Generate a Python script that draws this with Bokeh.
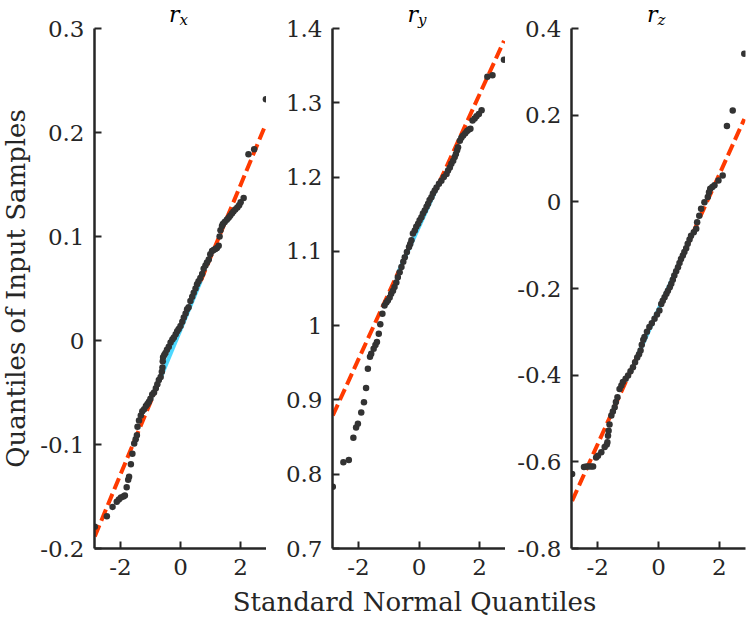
import math
from bokeh.plotting import figure
from bokeh.models import Label, FixedTicker, Range1d
from bokeh.layouts import row, column
from bokeh.embed import file_html
from bokeh.resources import INLINE

# ---------------- data ----------------
x_ticks = [-2, 0, 2]
x_tick_labels = ["-2", "0", "2"]
x_limits = [-2.86, 2.86]

rx_x = [-2.85, -2.45, -2.26, -2.12, -2.05, -1.98, -1.90, -1.85, -1.79, -1.74, -1.71, -1.65,
        -1.60, -1.54, -1.49, -1.45, -1.43, -1.38, -1.32, -1.27, -1.21, -1.15, -1.10, -1.05,
        -1.00, -0.94, -0.88, -0.82, -0.77, -0.72, -0.66, -0.62, -0.60, -0.59, -0.58, -0.54,
        -0.50, -0.45, -0.39, -0.33, -0.27, -0.22, -0.16, -0.11, -0.06, 0.00, 0.06, 0.11,
        0.17, 0.22, 0.27, 0.33, 0.39, 0.44, 0.50, 0.55, 0.60, 0.66, 0.72, 0.77, 0.83, 0.88,
        0.94, 0.99, 1.05, 1.10, 1.16, 1.21, 1.27, 1.30, 1.33, 1.38, 1.41, 1.47, 1.54, 1.60,
        1.65, 1.71, 1.76, 1.82, 1.89, 1.95, 2.00, 2.10, 2.26, 2.45, 2.84]
rx_y = [-0.179, -0.169, -0.160, -0.155, -0.153, -0.151, -0.150, -0.149, -0.141, -0.134, -0.131, -0.119,
        -0.109, -0.099, -0.095, -0.091, -0.083, -0.077, -0.072, -0.068, -0.066, -0.063, -0.061, -0.059,
        -0.056, -0.052, -0.050, -0.046, -0.042, -0.038, -0.035, -0.030, -0.026, -0.020, -0.016, -0.014,
        -0.012, -0.009, -0.006, -0.002, 0.001, 0.003, 0.006, 0.009, 0.011, 0.014, 0.018, 0.022,
        0.026, 0.030, 0.032, 0.038, 0.042, 0.046, 0.050, 0.054, 0.057, 0.060, 0.064, 0.069, 0.072, 0.075,
        0.078, 0.083, 0.086, 0.087, 0.088, 0.089, 0.091, 0.100, 0.106, 0.110, 0.112, 0.114, 0.116, 0.118,
        0.120, 0.122, 0.124, 0.126, 0.128, 0.130, 0.133, 0.137, 0.179, 0.184, 0.232]

ry_x = [-2.85, -2.50, -2.32, -2.17, -2.08, -2.02, -1.91, -1.82, -1.75, -1.69, -1.62, -1.58,
        -1.50, -1.44, -1.39, -1.33, -1.28, -1.21, -1.14, -1.08, -1.03, -0.97, -0.92, -0.86,
        -0.81, -0.75, -0.70, -0.64, -0.58, -0.52, -0.47, -0.40, -0.33, -0.29, -0.25, -0.20,
        -0.14, -0.09, -0.03, 0.02, 0.08, 0.13, 0.19, 0.25, 0.30, 0.35, 0.41, 0.46, 0.52, 0.58,
        0.66, 0.74, 0.82, 0.91, 0.96, 1.02, 1.07, 1.13, 1.18, 1.22, 1.26, 1.29, 1.35, 1.40,
        1.46, 1.53, 1.59, 1.65, 1.70, 1.77, 1.84, 1.90, 1.98, 2.07, 2.26, 2.43, 2.81]
ry_y = [0.783, 0.816, 0.819, 0.849, 0.863, 0.868, 0.883, 0.897, 0.916, 0.942, 0.958, 0.962,
        0.969, 0.974, 0.978, 0.989, 1.002, 1.016, 1.027, 1.031, 1.034, 1.038, 1.043, 1.047,
        1.052, 1.058, 1.065, 1.072, 1.079, 1.086, 1.092, 1.099, 1.106, 1.110, 1.115, 1.124,
        1.128, 1.133, 1.137, 1.142, 1.146, 1.151, 1.155, 1.160, 1.164, 1.169, 1.173, 1.178, 1.182, 1.186,
        1.191, 1.195, 1.200, 1.204, 1.209, 1.213, 1.218, 1.222, 1.227, 1.231, 1.236, 1.240, 1.249, 1.253,
        1.256, 1.259, 1.262, 1.264, 1.265, 1.276, 1.279, 1.282, 1.285, 1.290, 1.335, 1.337, 1.358]

rz_x = [-2.84, -2.45, -2.37, -2.30, -2.22, -2.15, -2.05, -1.99, -1.88, -1.77, -1.70, -1.68,
        -1.66, -1.64, -1.61, -1.55, -1.50, -1.44, -1.40, -1.35, -1.28, -1.22, -1.17, -1.08,
        -1.00, -0.92, -0.84, -0.77, -0.70, -0.64, -0.59, -0.55, -0.50, -0.46, -0.38, -0.30,
        -0.22, -0.13, -0.05, 0.03, 0.09, 0.14, 0.20, 0.26, 0.31, 0.37, 0.42, 0.47, 0.52, 0.58,
        0.64, 0.69, 0.74, 0.80, 0.85, 0.91, 0.96, 1.02, 1.07, 1.16, 1.24, 1.27, 1.34, 1.40,
        1.51, 1.62, 1.66, 1.70, 1.77, 1.84, 1.97, 2.11, 2.25, 2.44, 2.82]
rz_y = [-0.628, -0.612, -0.611, -0.611, -0.611, -0.611, -0.590, -0.586, -0.578, -0.566, -0.560, -0.555,
        -0.540, -0.528, -0.514, -0.493, -0.484, -0.474, -0.462, -0.451, -0.432, -0.424, -0.416, -0.408,
        -0.401, -0.391, -0.382, -0.370, -0.359, -0.352, -0.343, -0.330, -0.318, -0.312, -0.300, -0.289,
        -0.280, -0.270, -0.260, -0.251, -0.236, -0.228, -0.220, -0.212, -0.205, -0.197, -0.189, -0.180, -0.170, -0.160,
        -0.151, -0.141, -0.132, -0.124, -0.116, -0.107, -0.097, -0.087, -0.078, -0.070, -0.062, -0.047, -0.032, -0.016,
        -0.001, 0.011, 0.022, 0.030, 0.034, 0.038, 0.049, 0.061, 0.175, 0.211, 0.342]

panel_subscripts = ["x", "y", "z"]
panel_y_limits = [[-0.2, 0.3], [0.7, 1.4], [-0.8, 0.4]]
panel_y_ticks = [[-0.2, -0.1, 0, 0.1, 0.2, 0.3],
                 [0.7, 0.8, 0.9, 1, 1.1, 1.2, 1.3, 1.4],
                 [-0.8, -0.6, -0.4, -0.2, 0, 0.2, 0.4]]
panel_y_tick_labels = [["-0.2", "-0.1", "0", "0.1", "0.2", "0.3"],
                       ["0.7", "0.8", "0.9", "1", "1.1", "1.2", "1.3", "1.4"],
                       ["-0.8", "-0.6", "-0.4", "-0.2", "0", "0.2", "0.4"]]
# reference line through the quartiles: y = intercept + slope * x
fit_intercept = [0.0103, 1.133, -0.248]
fit_slope = [0.0697, 0.0891, 0.1557]
quartile_z = 0.6745

x_label_text = "Standard Normal Quantiles"
y_label_text = "Quantiles of Input Samples"

# ---------------- style / layout (pixels) ----------------
FONT = "DejaVu Serif"
AX = "#262626"
DOT = "#333333"
RED = "#ff3a00"
CYAN = "#4dd8ff"
TOP_PAD = 28        # empty frame space above the axis top (titles live here)
AXIS_H = 520        # pixel height of the drawn y axis
BOTTOM = 38
FIG_H = TOP_PAD + AXIS_H + BOTTOM
YLAB_W = 34


def make_panel(i, xs, ys, border_left, frame_w, border_right):
    ylo, yhi = panel_y_limits[i]
    per_px = (yhi - ylo) / AXIS_H
    y_end = yhi + TOP_PAD * per_px
    p = figure(width=border_left + frame_w + border_right, height=FIG_H, title=None,
               x_range=Range1d(*x_limits), y_range=Range1d(ylo, y_end),
               output_backend="svg", toolbar_location=None,
               min_border_left=border_left, min_border_right=border_right,
               min_border_top=0, min_border_bottom=BOTTOM)
    p.outline_line_color = None
    p.xgrid.visible = False
    p.ygrid.visible = False
    p.background_fill_color = "white"
    p.border_fill_color = "white"
    for ax in (p.xaxis[0], p.yaxis[0]):
        ax.axis_line_width = 2.5
        ax.axis_line_color = AX
        ax.major_tick_line_color = AX
        ax.major_tick_line_width = 2
        ax.major_tick_in = 7
        ax.major_tick_out = 0
        ax.minor_tick_line_color = None
        ax.major_label_text_font = FONT
        ax.major_label_text_font_size = "23px"
        ax.major_label_text_color = AX
        ax.major_label_standoff = 10
    p.xaxis[0].ticker = FixedTicker(ticks=x_ticks)
    p.xaxis[0].major_label_overrides = {t: s for t, s in zip(x_ticks, x_tick_labels)}
    p.yaxis[0].ticker = FixedTicker(ticks=panel_y_ticks[i])
    p.yaxis[0].major_label_overrides = {t: s for t, s in zip(panel_y_ticks[i], panel_y_tick_labels[i])}
    p.yaxis[0].bounds = (ylo, yhi)

    c, m = fit_intercept[i], fit_slope[i]
    xmin, xmax = xs[0], xs[-1]
    for a, b in [(xmin, -quartile_z), (quartile_z, xmax)]:
        p.line([a, b], [c + m * a, c + m * b], line_color=RED, line_width=4, line_dash="12 5")
    p.line([-quartile_z, quartile_z], [c - m * quartile_z, c + m * quartile_z],
           line_color=CYAN, line_width=4)
    p.scatter(xs, ys, size=6.5, fill_color=DOT, line_color=None)

    # title r_<sub>, placed in the empty band above the axis
    p.add_layout(Label(x=0, y=yhi + 14 * per_px, text="r", text_font=FONT, text_font_style="italic",
                       text_font_size="22px", text_color="black", text_align="right",
                       text_baseline="middle", x_offset=-1))
    p.add_layout(Label(x=0, y=yhi + 9 * per_px, text=panel_subscripts[i], text_font=FONT,
                       text_font_style="italic", text_font_size="15px", text_color="black",
                       text_align="left", text_baseline="middle", x_offset=-1))
    return p


p1 = make_panel(0, rx_x, rx_y, 60, 172, 0)
p2 = make_panel(1, ry_x, ry_y, 66, 173, 0)
p3 = make_panel(2, rz_x, rz_y, 66, 174, 2)

# y label strip (same frame as the panels so the rows line up)
ylab = figure(width=YLAB_W, height=FIG_H, title=None,
              x_range=Range1d(0, YLAB_W), y_range=Range1d(0, TOP_PAD + AXIS_H),
              output_backend="svg", toolbar_location=None,
              x_axis_location=None, y_axis_location=None,
              min_border_left=0, min_border_right=0, min_border_top=0, min_border_bottom=BOTTOM)
ylab.outline_line_color = None
ylab.xgrid.visible = False
ylab.ygrid.visible = False
ylab.add_layout(Label(x=15, y=AXIS_H / 2, text=y_label_text, angle=math.pi / 2, text_font=FONT,
                      text_font_size="26px", text_color=AX, text_align="center",
                      text_baseline="middle"))

total_w = YLAB_W + (60 + 172) + (66 + 173) + (66 + 174 + 2)
XLAB_H = 618 - FIG_H
xlab = figure(width=total_w, height=XLAB_H, title=None,
              x_range=Range1d(0, total_w), y_range=Range1d(0, XLAB_H),
              output_backend="svg", toolbar_location=None,
              x_axis_location=None, y_axis_location=None, min_border=0)
xlab.outline_line_color = None
xlab.xgrid.visible = False
xlab.ygrid.visible = False
xlab.add_layout(Label(x=414, y=XLAB_H / 2 + 1, text=x_label_text, text_font=FONT, text_font_size="26px",
                      text_color=AX, text_align="center", text_baseline="middle"))

layout = column(row(ylab, p1, p2, p3), xlab)
open("out.html", "w").write(file_html(layout, INLINE))
